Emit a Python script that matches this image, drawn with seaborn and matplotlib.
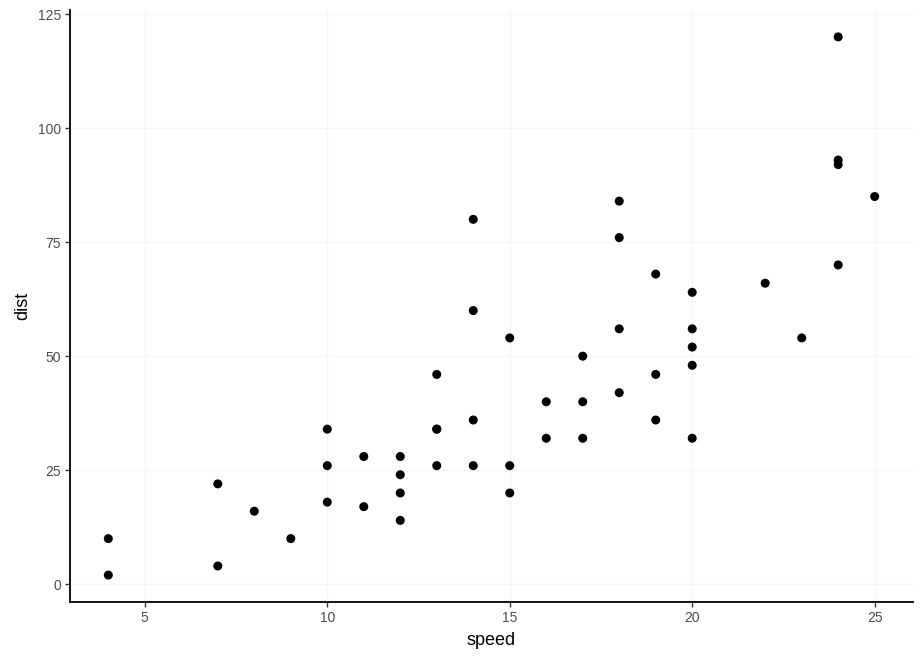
import matplotlib
matplotlib.use("Agg")
import matplotlib.pyplot as plt
import seaborn as sns
import pandas as pd

speed = [4, 4, 7, 7, 8, 9, 10, 10, 10, 11, 11, 12, 12, 12, 12, 13, 13, 13, 13,
         14, 14, 14, 14, 15, 15, 15, 16, 16, 17, 17, 17, 18, 18, 18, 18, 19, 19,
         19, 20, 20, 20, 20, 20, 22, 23, 24, 24, 24, 24, 25]
dist = [2, 10, 4, 22, 16, 10, 18, 26, 34, 17, 28, 14, 20, 24, 28, 26, 34, 34, 46,
        26, 36, 60, 80, 20, 26, 54, 32, 40, 32, 40, 50, 42, 56, 76, 84, 36, 46,
        68, 32, 48, 52, 56, 64, 66, 54, 70, 92, 93, 120, 85]
x_ticks = [5, 10, 15, 20, 25]
y_ticks = [0, 25, 50, 75, 100, 125]

df = pd.DataFrame({"speed": speed, "dist": dist})

sns.set_style("white")
plt.rcParams['font.family'] = ['Liberation Sans', 'DejaVu Sans']

fig = plt.figure(figsize=(9.24, 6.6), dpi=100)
ax = fig.add_axes([70/924, 58/660, (913-70)/924, (602-10)/660])

sns.scatterplot(data=df, x="speed", y="dist", ax=ax, color="black",
                s=42, edgecolor="none", zorder=3)

ax.set_xlim(2.95, 26.05)
ax.set_ylim(-3.9, 125.9)
ax.set_xticks(x_ticks)
ax.set_yticks(y_ticks)
ax.grid(True, color="#F5F5F5", linewidth=1.0)
ax.set_axisbelow(True)
for s in ["top", "right"]:
    ax.spines[s].set_visible(False)
for s in ["left", "bottom"]:
    ax.spines[s].set_color("black")
    ax.spines[s].set_linewidth(1.3)
ax.tick_params(axis="both", direction="out", length=3.5, width=1.0,
               bottom=True, left=True,
               color="#333333", labelcolor="#4D4D4D", labelsize=10, pad=3)
ax.set_xlabel("speed", fontsize=13, color="black", labelpad=5)
ax.set_ylabel("dist", fontsize=13, color="black", labelpad=5)

fig.savefig("out.png", dpi=100)
